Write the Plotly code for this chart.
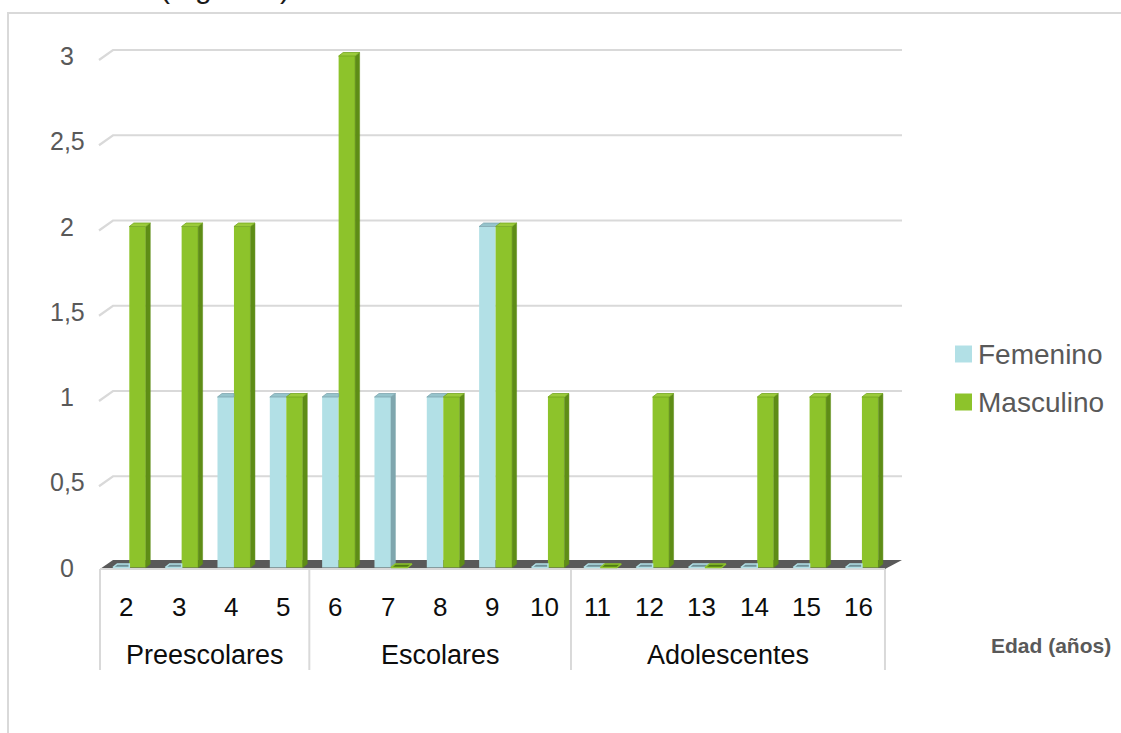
import plotly.graph_objects as go

# ---- data -------------------------------------------------------------
ages = ["2", "3", "4", "5", "6", "7", "8", "9", "10", "11", "12", "13", "14", "15", "16"]
groups = ["Preescolares", "Escolares", "Adolescentes"]
group_sizes = [4, 5, 6]
series_names = ["Femenino", "Masculino"]
femenino = [0, 0, 1, 1, 1, 1, 1, 2, 0, 0, 0, 0, 0, 0, 0]
masculino = [2, 2, 2, 1, 3, 0, 1, 2, 1, 0, 1, 0, 1, 1, 1]
y_ticks = [0, 0.5, 1, 1.5, 2, 2.5, 3]
y_tick_text = ["0", "0,5", "1", "1,5", "2", "2,5", "3"]
x_title = "Edad (años)"
caption = "(Figura 2)"

# ---- page geometry (pixels) -------------------------------------------
W, H = 1121, 733
PLOT_L, PLOT_R, PLOT_T, PLOT_B = 90, 910, 30, 680
CAT_X0 = 100.0          # pixel of the left edge of the first category
CAT_W = 52.33           # pixels per category
BASE_PX = 567.5         # pixel of value 0 at the bar front
UNIT_PX = 170.5         # pixels per unit of value

FONT = "Liberation Sans, Arial, sans-serif"
GRID = "#D9D9D9"
F_FRONT, F_SIDE, F_TOP = "#B2E0E6", "#7FA6AE", "#96C4CC"
M_FRONT, M_SIDE, M_TOP = "#8DC32B", "#5E8D16", "#9BCB3B"
FLOOR = "#595959"


def dx(px):
    return px / CAT_W


def dy(px):
    return px / UNIT_PX


def y_at(px):
    return (BASE_PX - px) / UNIT_PX


def x_at(px):
    return -0.5 + (px - CAT_X0) / CAT_W


def paper_x(px):
    return (px - PLOT_L) / (PLOT_R - PLOT_L)


def paper_y(px):
    return (PLOT_B - px) / (PLOT_B - PLOT_T)


x_range = [x_at(PLOT_L), x_at(PLOT_R)]
y_range = [y_at(PLOT_B), y_at(PLOT_T)]

n = len(ages)
idx = list(range(n))
BAR_W = 0.315
OFF_F = -0.255
OFF_M = OFF_F + BAR_W
SX, SY = dx(4.5), dy(3.5)   # depth of each bar's side/top faces


def polys_to_xy(polys):
    xs, ys = [], []
    for p in polys:
        for (a, b) in p:
            xs.append(a)
            ys.append(b)
        xs.append(p[0][0])
        ys.append(p[0][1])
        xs.append(None)
        ys.append(None)
    return xs, ys


f_side, f_top, f_zero, m_side, m_top, m_zero = [], [], [], [], [], []
for i, f, m in zip(idx, femenino, masculino):
    lf, rf = i + OFF_F, i + OFF_F + BAR_W
    lm, rm = i + OFF_M, i + OFF_M + BAR_W
    # Femenino: side face only where the neighbouring bar does not hide it
    if f > 0 and m < f:
        base = m if m > 0 else 0
        f_side.append([(rf, base), (rf, f), (rf + SX, f + SY), (rf + SX, base + SY)])
    if m > f:
        top = [(lf, f), (rf, f), (rf, f + SY), (lf + SX, f + SY)]
    else:
        top = [(lf, f), (rf, f), (rf + SX, f + SY), (lf + SX, f + SY)]
    (f_top if f > 0 else f_zero).append(top)
    # Masculino
    if m > 0:
        m_side.append([(rm, 0), (rm, m), (rm + SX, m + SY), (rm + SX, SY)])
    top = [(lm, m), (rm, m), (rm + SX, m + SY), (lm + SX, m + SY)]
    (m_top if m > 0 else m_zero).append(top)

fig = go.Figure()

# front faces
fig.add_trace(go.Bar(x=idx, y=femenino, offset=OFF_F, width=BAR_W, name=series_names[0],
                     marker=dict(color=F_FRONT, line=dict(width=0)),
                     showlegend=False, hoverinfo="skip"))
fig.add_trace(go.Bar(x=idx, y=masculino, offset=OFF_M, width=BAR_W, name=series_names[1],
                     marker=dict(color=M_FRONT, line=dict(width=0)),
                     showlegend=False, hoverinfo="skip"))


def face(polys, fill, line_color, line_w):
    xs, ys = polys_to_xy(polys)
    return go.Scatter(x=xs, y=ys, mode="lines", fill="toself", fillcolor=fill,
                      line=dict(color=line_color, width=line_w),
                      showlegend=False, hoverinfo="skip")


fig.add_trace(face(f_side, F_SIDE, F_SIDE, 0.5))
fig.add_trace(face(f_top, F_TOP, F_SIDE, 0.8))
fig.add_trace(face(f_zero, "#6E8F96", F_FRONT, 1.5))
fig.add_trace(face(m_side, M_SIDE, M_SIDE, 0.5))
fig.add_trace(face(m_top, M_TOP, "#74A51F", 0.8))
fig.add_trace(face(m_zero, "#4F7A12", M_FRONT, 1.5))

shapes = []
# floor
fl_front, fl_back = y_at(569), y_at(560)
shapes.append(dict(type="path", xref="x", yref="y", layer="below",
                   path=f"M {x_at(100)} {fl_front} L {x_at(113)} {fl_back} "
                        f"L {x_at(902)} {fl_back} L {x_at(885)} {fl_front} Z",
                   fillcolor=FLOOR, line=dict(width=0)))
# back-wall gridlines with the slanted side-wall segment
for v in y_ticks:
    if v == 0:
        continue
    front = v - dy(4)
    back = v + dy(6)
    shapes.append(dict(type="path", xref="x", yref="y", layer="below",
                       path=f"M {x_at(99)} {front} L {x_at(113)} {back} L {x_at(902)} {back}",
                       line=dict(color=GRID, width=2.2)))
# category table lines
shapes.append(dict(type="line", xref="x", yref="y", layer="below",
                   x0=-0.5, x1=n - 0.5, y0=y_at(569), y1=y_at(569),
                   line=dict(color=GRID, width=2)))
edges = [-0.5]
for s in group_sizes:
    edges.append(edges[-1] + s)
for e in edges:
    shapes.append(dict(type="line", xref="x", yref="y", layer="below",
                       x0=e, x1=e, y0=y_at(569), y1=y_at(670),
                       line=dict(color=GRID, width=2)))
# outer chart frame
shapes.append(dict(type="rect", xref="paper", yref="paper",
                   x0=paper_x(8), x1=paper_x(W + 20), y0=paper_y(13), y1=paper_y(H + 20),
                   line=dict(color="#D9D9D9", width=2), fillcolor="rgba(0,0,0,0)"))

annotations = []
# y tick labels
for v, t in zip(y_ticks, y_tick_text):
    annotations.append(dict(x=paper_x(67), y=v, xref="paper", yref="y", text=t,
                            showarrow=False, xanchor="center", yanchor="middle",
                            font=dict(family=FONT, size=25, color="#595959")))
# ages
for i, a in zip(idx, ages):
    annotations.append(dict(x=i, y=y_at(607), xref="x", yref="y", text=a, showarrow=False,
                            xanchor="center", yanchor="middle",
                            font=dict(family=FONT, size=26, color="#0D0D0D")))
# groups
for gname, a, b in zip(groups, edges[:-1], edges[1:]):
    annotations.append(dict(x=(a + b) / 2, y=y_at(655), xref="x", yref="y", text=gname,
                            showarrow=False, xanchor="center", yanchor="middle",
                            font=dict(family=FONT, size=27, color="#0D0D0D")))
# axis title
annotations.append(dict(x=paper_x(1113), y=paper_y(645), xref="paper", yref="paper",
                        text=x_title, showarrow=False, xanchor="right", yanchor="middle",
                        font=dict(family=FONT, size=21, color="#595959", weight="bold")))
# legend
for k, (name, col) in enumerate(zip(series_names, [F_FRONT, M_FRONT])):
    cy = 354 + 48 * k
    shapes.append(dict(type="rect", xref="paper", yref="paper",
                       x0=paper_x(955), x1=paper_x(972), y0=paper_y(cy - 8.5), y1=paper_y(cy + 8.5),
                       fillcolor=col, line=dict(width=0)))
    annotations.append(dict(x=paper_x(976), y=paper_y(cy), xref="paper", yref="paper",
                            text=name, showarrow=False, xanchor="left", yanchor="middle",
                            font=dict(family=FONT, size=28, color="#595959")))
# caption line running above the chart (only its lower edge shows on the page)
annotations.append(dict(x=paper_x(158), y=paper_y(6), xref="paper", yref="paper",
                        text=caption, showarrow=False, xanchor="left", yanchor="bottom",
                        font=dict(family=FONT, size=30, color="#1A1A1A")))

fig.update_layout(
    width=W, height=H, autosize=False,
    margin=dict(l=PLOT_L, r=W - PLOT_R, t=PLOT_T, b=H - PLOT_B, autoexpand=False),
    paper_bgcolor="white", plot_bgcolor="white",
    barmode="overlay",
    xaxis=dict(range=x_range, showgrid=False, zeroline=False, showticklabels=False,
               showline=False, ticks="", fixedrange=True),
    yaxis=dict(range=y_range, showgrid=False, zeroline=False, showticklabels=False,
               showline=False, ticks="", fixedrange=True),
    shapes=shapes, annotations=annotations, showlegend=False,
)

fig.write_html("out.html")
